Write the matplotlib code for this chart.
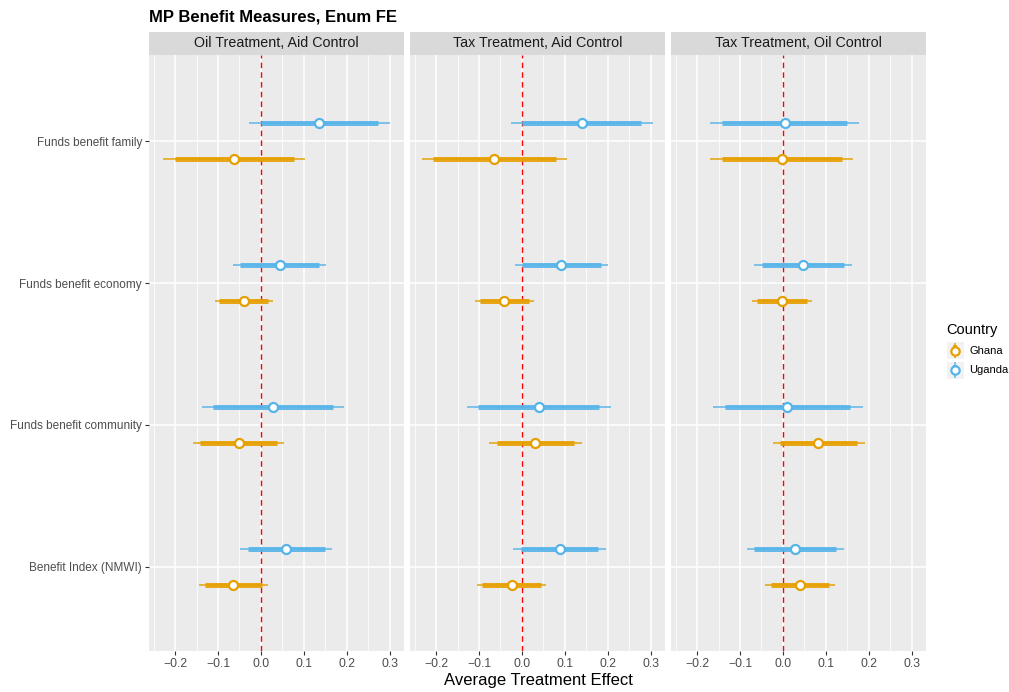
import matplotlib
matplotlib.use("Agg")
import matplotlib.pyplot as plt
from matplotlib.ticker import FixedLocator, FuncFormatter
import numpy as np

plt.rcParams['font.family'] = ['Liberation Sans', 'DejaVu Sans']

# ---------------- data ----------------
panels = ["Oil Treatment, Aid Control", "Tax Treatment, Aid Control", "Tax Treatment, Oil Control"]
outcomes = ["Benefit Index (NMWI)", "Funds benefit community", "Funds benefit economy", "Funds benefit family"]
countries = ["Ghana", "Uganda"]

# estimates [panel][outcome] (outcome order as above)
ghana_est = [[-0.065, -0.052, -0.040, -0.062],
             [-0.024, 0.031, -0.041, -0.064],
             [0.040, 0.082, -0.002, -0.002]]
ghana_lo90 = [[-0.131, -0.141, -0.097, -0.201],
              [-0.092, -0.059, -0.098, -0.206],
              [-0.028, -0.007, -0.060, -0.142]]
ghana_hi90 = [[0.003, 0.038, 0.017, 0.076],
              [0.044, 0.121, 0.016, 0.078],
              [0.107, 0.172, 0.055, 0.137]]
ghana_lo95 = [[-0.145, -0.159, -0.108, -0.228],
              [-0.105, -0.076, -0.110, -0.233],
              [-0.041, -0.024, -0.071, -0.169]]
ghana_hi95 = [[0.016, 0.054, 0.028, 0.103],
              [0.057, 0.139, 0.028, 0.104],
              [0.120, 0.190, 0.067, 0.164]]

uganda_est = [[0.058, 0.027, 0.044, 0.135],
              [0.088, 0.040, 0.091, 0.139],
              [0.028, 0.010, 0.047, 0.004]]
uganda_lo90 = [[-0.031, -0.112, -0.048, 0.000],
               [-0.002, -0.102, 0.000, 0.000],
               [-0.067, -0.135, -0.048, -0.141]]
uganda_hi90 = [[0.149, 0.168, 0.135, 0.272],
               [0.178, 0.180, 0.184, 0.277],
               [0.123, 0.157, 0.143, 0.149]]
uganda_lo95 = [[-0.049, -0.138, -0.065, -0.029],
               [-0.021, -0.128, -0.017, -0.025],
               [-0.084, -0.163, -0.067, -0.169]]
uganda_hi95 = [[0.166, 0.194, 0.152, 0.299],
               [0.195, 0.207, 0.201, 0.305],
               [0.141, 0.185, 0.161, 0.177]]

x_ticks = [-0.2, -0.1, 0.0, 0.1, 0.2, 0.3]
x_minor = [-0.25, -0.15, -0.05, 0.05, 0.15, 0.25]

colors = {"Ghana": "#E69F00", "Uganda": "#56B4E9"}
dodge = {"Ghana": -0.125, "Uganda": 0.125}

series = {
    "Ghana": (ghana_est, ghana_lo90, ghana_hi90, ghana_lo95, ghana_hi95),
    "Uganda": (uganda_est, uganda_lo90, uganda_hi90, uganda_lo95, uganda_hi95),
}

# ---------------- figure ----------------
W, H = 1009, 692
fig = plt.figure(figsize=(W / 100, H / 100), dpi=100)

def fx(px):
    return px / W

def fy(py):
    return 1 - py / H

panel_left = [149, 410, 671]
panel_w = 254.7
panel_top, panel_bot = 55, 651
strip_top = 32

y_pos = np.arange(1, len(outcomes) + 1)

for i, name in enumerate(panels):
    ax = fig.add_axes([fx(panel_left[i]), fy(panel_bot), panel_w / W, (panel_bot - panel_top) / H])
    ax.set_facecolor("#EBEBEB")
    for s in ax.spines.values():
        s.set_visible(False)
    ax.set_xlim(-0.2605, 0.332)
    ax.set_ylim(0.408, 4.606)
    ax.xaxis.set_major_locator(FixedLocator(x_ticks))
    ax.xaxis.set_minor_locator(FixedLocator(x_minor))
    ax.xaxis.set_major_formatter(FuncFormatter(lambda v, p: f"{v:.1f}".replace("-", "\u2212")))
    ax.set_yticks(y_pos)
    ax.grid(which="major", axis="both", color="white", linewidth=1.1)
    ax.grid(which="minor", axis="x", color="white", linewidth=0.55)
    ax.set_axisbelow(True)
    ax.tick_params(axis="both", which="major", length=3, width=0.8, color="#333333",
                   labelcolor="#4D4D4D", labelsize=8.8, pad=2)
    ax.tick_params(axis="y", labelsize=8.5)
    ax.tick_params(axis="both", which="minor", length=0)
    if i == 0:
        ax.set_yticklabels(outcomes)
    else:
        ax.tick_params(axis="y", labelleft=False, length=0)

    ax.axvline(0, color="#FF0000", linestyle=(0, (4, 3)), linewidth=1.0, zorder=2)

    for c in countries:
        est, lo90, hi90, lo95, hi95 = series[c]
        yy = y_pos + dodge[c]
        ax.hlines(yy, lo95[i], hi95[i], color=colors[c], linewidth=1.4, alpha=0.75, zorder=3)
        ax.hlines(yy, lo90[i], hi90[i], color=colors[c], linewidth=3.6, alpha=0.9, zorder=4)
        ax.plot(est[i], yy, "o", markersize=6.5, markerfacecolor="white",
                markeredgecolor=colors[c], markeredgewidth=1.6, linestyle="none", zorder=5)

    # strip
    sax = fig.add_axes([fx(panel_left[i]), fy(panel_top - 0.5), panel_w / W, (panel_top - 0.5 - strip_top) / H])
    sax.set_facecolor("#D9D9D9")
    sax.set_xticks([]); sax.set_yticks([])
    for s in sax.spines.values():
        s.set_visible(False)
    sax.text(0.5, 0.5, name, ha="center", va="center", fontsize=10.3, color="#1A1A1A",
             transform=sax.transAxes)

# title
fig.text(fx(149), fy(17), "MP Benefit Measures, Enum FE", fontsize=12, fontweight="bold",
         ha="left", va="center", color="black")
# x label
fig.text(fx(538), fy(680), "Average Treatment Effect", fontsize=12, ha="center", va="center",
         color="black")

# legend
fig.text(fx(946), fy(330), "Country", fontsize=10.5, ha="left", va="center", color="black")
key_tops = [342, 361.5]
for c, kt in zip(countries, key_tops):
    kax = fig.add_axes([fx(946.5), fy(kt + 17.3), 17 / W, 17.3 / H])
    kax.set_facecolor("#F2F2F2")
    for s in kax.spines.values():
        s.set_visible(False)
    kax.set_xticks([]); kax.set_yticks([])
    kax.set_xlim(0, 1); kax.set_ylim(0, 1)
    kax.vlines(0.5, 0.05, 0.95, color=colors[c], linewidth=1.4, alpha=0.75)
    kax.vlines(0.5, 0.2, 0.8, color=colors[c], linewidth=3.0, alpha=0.9)
    kax.plot(0.5, 0.5, "o", markersize=6, markerfacecolor="white", markeredgecolor=colors[c],
             markeredgewidth=1.6)
    fig.text(fx(969), fy(kt + 8.7), c, fontsize=8, ha="left", va="center", color="black")

fig.savefig("out.png", dpi=100, facecolor="white")
